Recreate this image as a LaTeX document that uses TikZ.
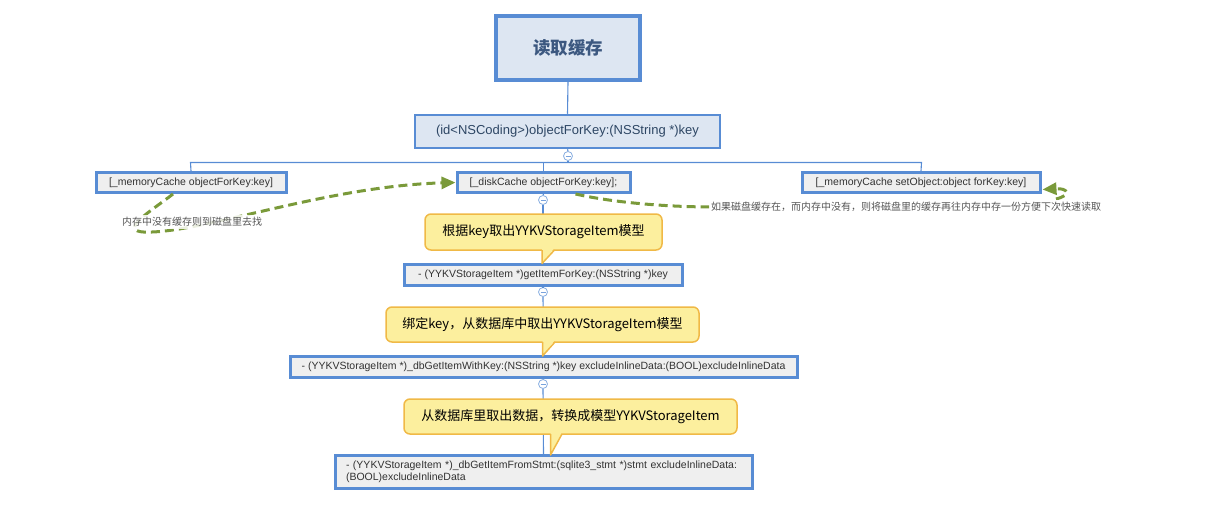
\documentclass[tikz,border=0pt]{standalone}
\usepackage{fontspec}
\setmainfont{Liberation Sans}
\newfontfamily\cjk{Noto Sans CJK SC}
\usetikzlibrary{arrows.meta}
\definecolor{bblue}{RGB}{88,140,212}
\definecolor{lbfill}{RGB}{221,230,242}
\definecolor{gfill}{RGB}{239,239,239}
\definecolor{yfill}{RGB}{252,239,158}
\definecolor{yborder}{RGB}{240,185,70}
\definecolor{olivegreen}{RGB}{122,154,58}
\definecolor{titletext}{RGB}{60,88,128}
\definecolor{maintext}{RGB}{45,70,100}
\definecolor{boxtext}{RGB}{50,50,50}
\definecolor{notetext}{RGB}{85,85,85}
\tikzset{
  titlebox/.style={draw=bblue, fill=lbfill, line width=4pt, inner sep=0pt, text=titletext, font=\cjk\bfseries\fontsize{17.5}{20}\selectfont},
  mainbox/.style={draw=bblue, fill=lbfill, line width=2.5pt, inner sep=0pt, text=maintext, font=\fontsize{13}{15}\selectfont},
  codebox/.style={draw=bblue, fill=gfill, line width=3pt, inner sep=0pt, text=boxtext, font=\fontsize{10.5}{12}\selectfont},
  calloutbox/.style={draw=yborder, fill=yfill, line width=1.5pt, rounded corners=6pt, inner sep=0pt, text=black, font=\cjk\fontsize{13}{15}\selectfont},
  notelabel/.style={fill=white, fill opacity=0.85, text opacity=1, inner sep=2pt, text=notetext, font=\cjk\fontsize{10}{12}\selectfont},
  link/.style={draw=bblue, line width=1.1pt},
  minusdot/.style={circle, draw=bblue!70, fill=white, line width=0.8pt, minimum size=9pt, inner sep=0pt,
    path picture={\draw[bblue!80, line width=0.8pt] ([xshift=-2.5pt]path picture bounding box.center) -- ([xshift=2.5pt]path picture bounding box.center);}},
  greendash/.style={draw=olivegreen, line width=3pt, dash pattern=on 9pt off 5pt},
  greenarrow/.style={greendash, -{Triangle[length=14pt,width=12pt]}},
}
\begin{document}
\begin{tikzpicture}[x=1pt,y=-1pt]
\useasboundingbox (0,0) rectangle (1207,506);
\coordinate (hbarL) at (190.5,162.5);
\coordinate (hbarR) at (921.5,162.5);
% nodes
\node[titlebox, minimum width=144pt, minimum height=64pt] (title) at (568,48) {读取缓存};
\node[mainbox, minimum width=305pt, minimum height=33pt] (main) at (567.5,131.5) {(id<NSCoding>)objectForKey:(NSString *)key};
\node[codebox, minimum width=190pt, minimum height=20pt] (mc) at (191,182.5) {[\_memoryCache objectForKey:key]};
\node[codebox, minimum width=173pt, minimum height=20pt] (dc) at (543.5,182.5) {[\_diskCache objectForKey:key];};
\node[codebox, minimum width=238pt, minimum height=20pt] (so) at (921,182.5) {[\_memoryCache setObject:object forKey:key]};
\node[codebox, minimum width=278pt, minimum height=21pt] (gi) at (543,274.5) {- (YYKVStorageItem *)getItemForKey:(NSString *)key};
\node[codebox, minimum width=507pt, minimum height=21pt] (dbk) at (543.5,366.5) {- (YYKVStorageItem *)\_dbGetItemWithKey:(NSString *)key excludeInlineData:(BOOL)excludeInlineData};
\node[codebox, minimum width=417pt, minimum height=33pt, text width=395pt, align=left] (stmt) at (543.5,472) {- (YYKVStorageItem *)\_dbGetItemFromStmt:(sqlite3\_stmt *)stmt excludeInlineData:\\(BOOL)excludeInlineData};
% minus dots
\node[minusdot] (m0) at (568,156) {};
\node[minusdot] (m1) at (543,200) {};
\node[minusdot] (m2) at (543,292) {};
\node[minusdot] (m3) at (543,384) {};
% connectors
\draw[link] (title.south) -- (main.north);
\draw[link] (main.south) -- (m0.north);
\draw[link] (m0.south) -- (m0.south |- hbarL);
\draw[link] (mc.north) -- (hbarL) -- (hbarR) -- (so.north);
\draw[link] (dc.north) -- (dc.north |- hbarL);
\draw[link] (dc.south) -- (m1.north);
\draw[link] (m1.south) -- (gi.north);
\draw[link] (gi.south) -- (m2.north);
\draw[link] (m2.south) -- (dbk.north);
\draw[link] (dbk.south) -- (m3.north);
\draw[link] (m3.south) -- (stmt.north);
% callouts
\node[calloutbox, minimum width=237pt, minimum height=36pt] (c1) at (543.5,232) {根据key取出YYKVStorageItem模型};
\fill[yfill] (542,248) -- (542,263.5) -- (554.5,248) -- cycle;
\draw[yborder, line width=1.5pt, line join=round] (542,250) -- (542,263.5) -- (554.5,250);
\node[calloutbox, minimum width=313pt, minimum height=35pt] (c2) at (542.5,324.5) {绑定key，从数据库中取出YYKVStorageItem模型};
\fill[yfill] (542.5,340) -- (542.5,356) -- (555,340) -- cycle;
\draw[yborder, line width=1.5pt, line join=round] (542.5,342) -- (542.5,356) -- (555,342);
\node[calloutbox, minimum width=333pt, minimum height=35pt] (c3) at (570.5,416.5) {从数据库里取出数据，转换成模型YYKVStorageItem};
\fill[yfill] (550.5,432) -- (550.5,455) -- (562,432) -- cycle;
\draw[yborder, line width=1.5pt, line join=round] (550.5,434) -- (550.5,455) -- (562,434);
% green dashed notes
\coordinate (n2end) at (714,207);
\coordinate (n2start) at (1056,199);
\draw[greenarrow] ([xshift=-18pt]mc.south) .. controls (150,212) and (112,234) .. (152,232) .. controls (210,230) and (330,186) .. (dc.west);
\draw[greendash] ([xshift=32pt]dc.south) .. controls (615,203) and (670,207) .. (n2end);
\draw[greenarrow] (n2start) .. controls (1072,195) and (1068,188) .. ([xshift=1pt,yshift=4.5pt]so.south east);
\node[notelabel] (note1) at (192,222) {内存中没有缓存则到磁盘里去找};
\node[notelabel, anchor=west] (note2) at (709,207) {如果磁盘缓存在，而内存中没有，则将磁盘里的缓存再往内存中存一份方便下次快速读取};
\end{tikzpicture}
\end{document}
